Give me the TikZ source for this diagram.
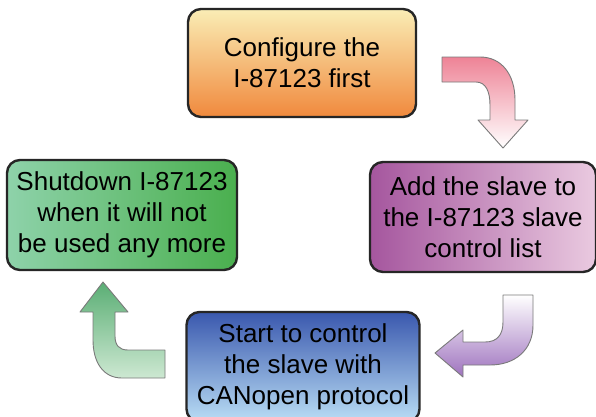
\documentclass[tikz,border=0pt]{standalone}
\usepackage{fontspec}
\setmainfont{Liberation Sans}
\usepackage{xcolor}

\definecolor{boxline}{HTML}{262626}
\definecolor{arrowline}{HTML}{7A7A7A}
\definecolor{cfgtop}{HTML}{FAEDB5}
\definecolor{cfgbot}{HTML}{F0893D}
\definecolor{addleft}{HTML}{A5569E}
\definecolor{addright}{HTML}{EACAE0}
\definecolor{starttop}{HTML}{3A58AE}
\definecolor{startbot}{HTML}{BADEF5}
\definecolor{shutleft}{HTML}{8ED2AA}
\definecolor{shutright}{HTML}{4AAF4E}
\definecolor{pinkarrow}{HTML}{EE8396}
\definecolor{purplearrow}{HTML}{9E72BE}
\definecolor{greentop}{HTML}{5AAE74}
\definecolor{greenbot}{HTML}{CDE8D2}

\begin{document}
\begin{tikzpicture}[x=1pt,y=-1pt,
	stepbox/.style={draw=boxline, line width=2.4pt, rounded corners=13pt,
		inner sep=0pt, align=center, font=\fontsize{26}{31}\selectfont},
	bendarrow/.style={draw=arrowline, line width=0.9pt, line join=round}]

	% Frame.
	\path[use as bounding box, clip] (0,0) rectangle (596,416);
	\fill[white] (0,0) rectangle (596,416);

	% Step node definitions.
	\node[stepbox, top color=cfgtop, bottom color=cfgbot,
		minimum width=228pt, minimum height=108pt]
		(configure) at (302,63)   {Configure the\\I-87123 first};
	\node[stepbox, left color=addleft, right color=addright,
		minimum width=226pt, minimum height=110pt]
		(add_slave) at (483,217)  {Add the slave to\\the I-87123 slave\\control list};
	\node[stepbox, top color=starttop, bottom color=startbot,
		minimum width=233pt, minimum height=110pt]
		(start_ctrl) at (303,367) {Start to control\\the slave with\\CANopen protocol};
	\node[stepbox, left color=shutleft, right color=shutright,
		minimum width=230pt, minimum height=110pt]
		(shutdown) at (122,215)   {Shutdown I-87123\\when it will not\\be used any more};

	% Bent arrows.
	\shade[bendarrow, top color=pinkarrow, bottom color=white]
		(442,57) -- (480,57) .. controls (502,57) and (515,75) .. (515,100)
		-- (515,120) -- (528,120) -- (503,148) -- (478,120) -- (490,120)
		-- (490,105) .. controls (490,92) and (486,82) .. (476,82)
		-- (442,82) -- cycle;
	\shade[bendarrow, top color=white, bottom color=purplearrow]
		(503,295) -- (533,295) -- (533,325) .. controls (533,350) and (515,365) .. (490,365)
		-- (463,365) -- (463,377) -- (435,353) -- (463,330) -- (463,342)
		-- (485,342) .. controls (497,342) and (503,335) .. (503,322) -- cycle;
	\shade[bendarrow, top color=greentop, bottom color=greenbot]
		(165,350) -- (128,350) .. controls (119,350) and (115,345) .. (115,336)
		-- (115,312) -- (128,312) -- (103,282) -- (80,312) -- (93,312)
		-- (93,340) .. controls (93,362) and (103,378) .. (122,378)
		-- (165,378) -- cycle;

\end{tikzpicture}
\end{document}
